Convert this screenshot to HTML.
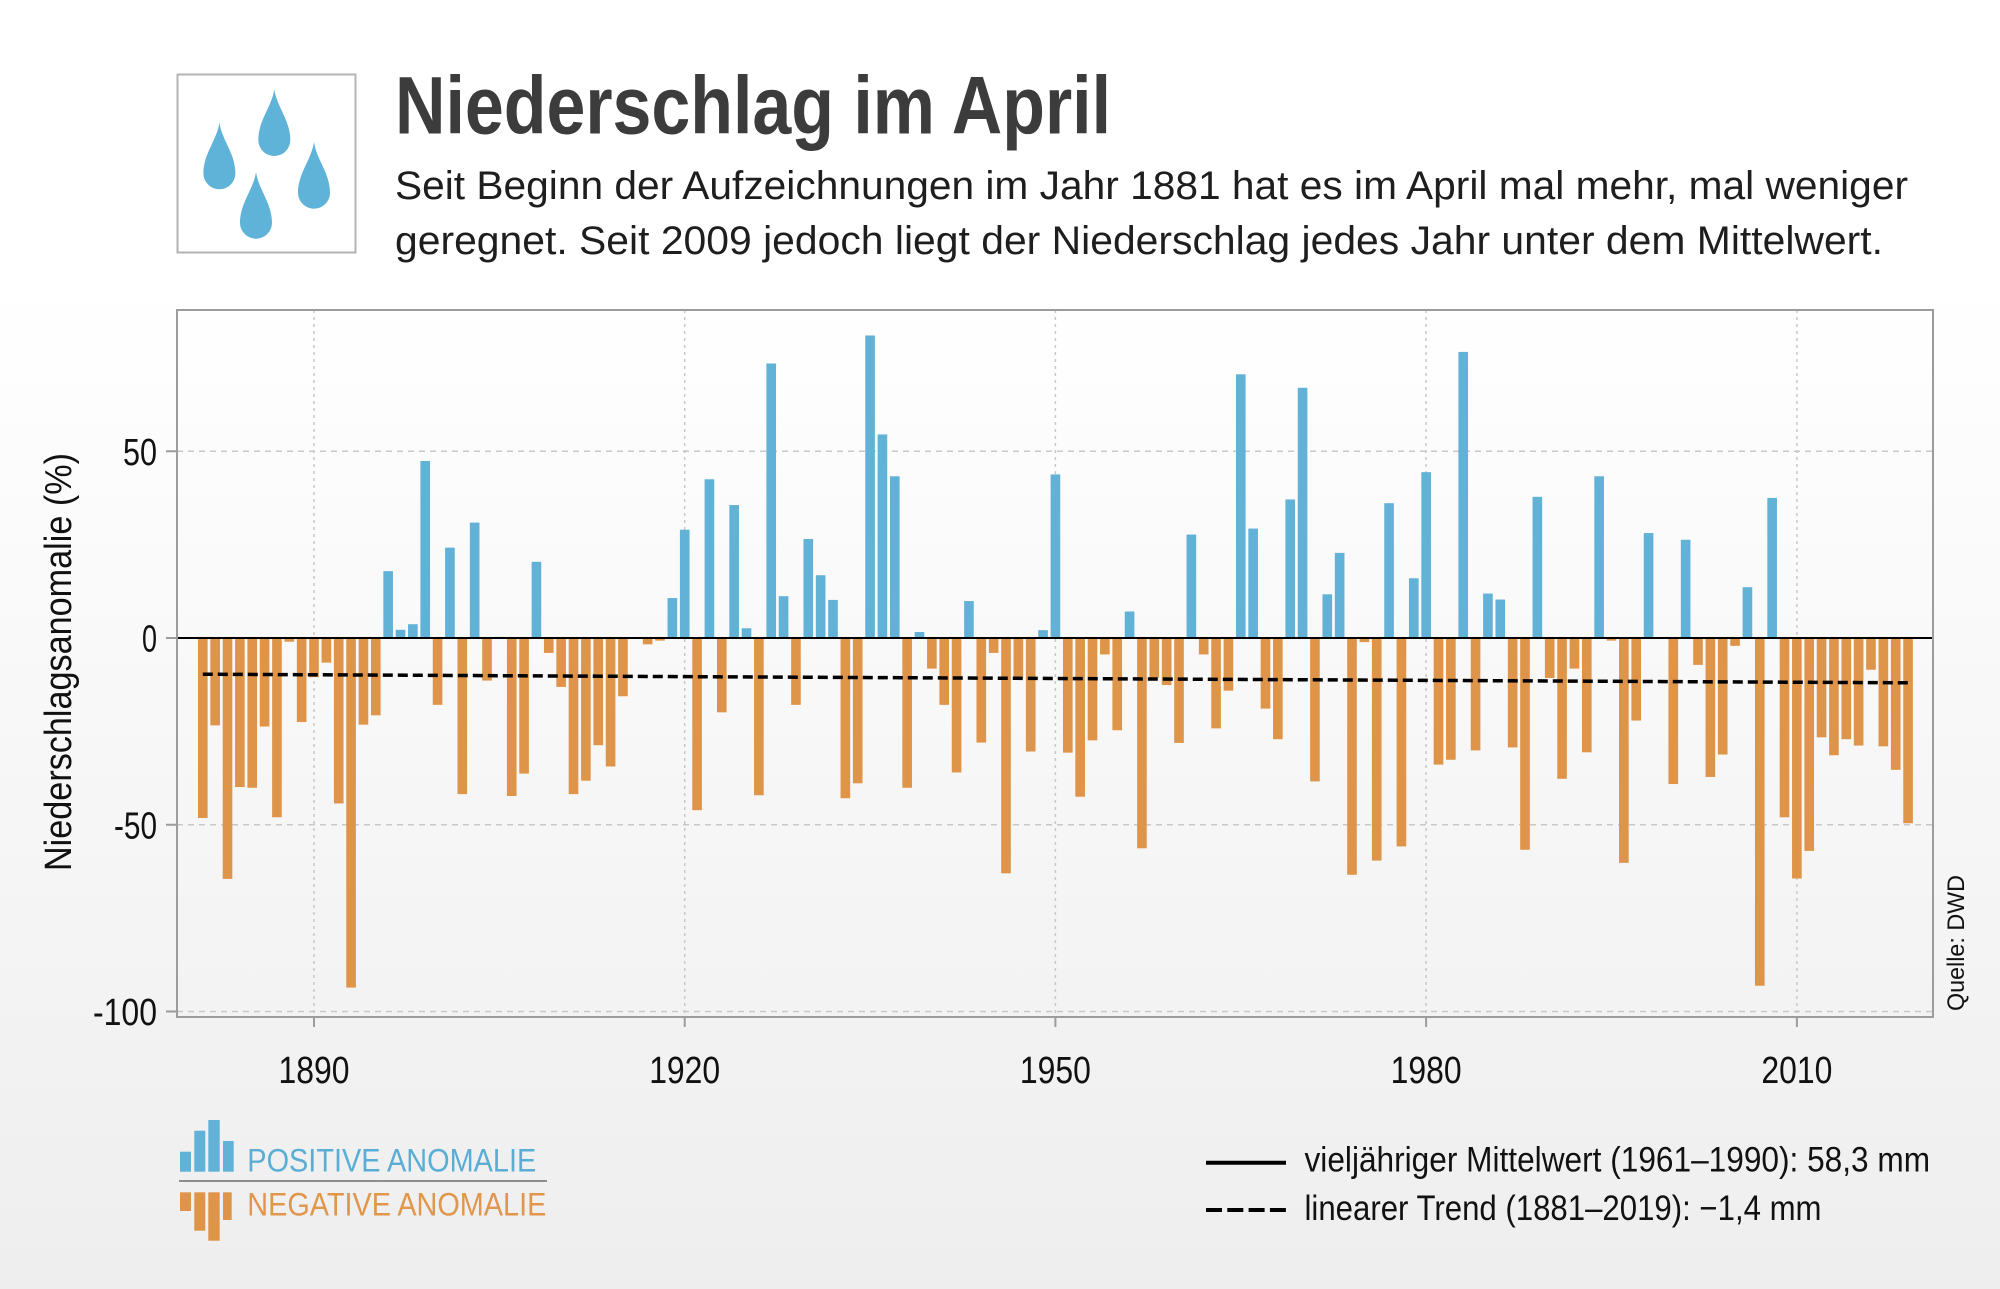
<!DOCTYPE html>
<html><head><meta charset="utf-8"><style>
html,body{margin:0;padding:0;width:2000px;height:1289px;overflow:hidden;}
body{background:linear-gradient(to bottom,#ffffff 0%,#ffffff 22%,#eeeeee 100%);}
svg{display:block;font-family:"Liberation Sans",sans-serif;}
</style></head><body>
<svg width="2000" height="1289" viewBox="0 0 2000 1289" xmlns="http://www.w3.org/2000/svg">
<!-- Icon -->
<rect x="177.5" y="74.5" width="178" height="178" fill="#ffffff" stroke="#b4b4b4" stroke-width="2"/>
<g fill="#5fb2d8">
<path transform="translate(219.4,189.3)" d="M0,-67 C2,-50 16,-36 16,-16 A16,16 0 0 1 -16,-16 C-16,-36 -2,-50 0,-67 Z"/>
<path transform="translate(274.3,156)" d="M0,-67 C2,-50 16,-36 16,-16 A16,16 0 0 1 -16,-16 C-16,-36 -2,-50 0,-67 Z"/>
<path transform="translate(314,208.7)" d="M0,-67 C2,-50 16,-36 16,-16 A16,16 0 0 1 -16,-16 C-16,-36 -2,-50 0,-67 Z"/>
<path transform="translate(256,238.7)" d="M0,-67 C2,-50 16,-36 16,-16 A16,16 0 0 1 -16,-16 C-16,-36 -2,-50 0,-67 Z"/>
</g>
<!-- Title -->
<text x="395" y="133.5" font-size="82" font-weight="bold" fill="#3c3c3c" textLength="716" lengthAdjust="spacingAndGlyphs">Niederschlag im April</text>
<text x="395" y="199" font-size="40" fill="#1e1e1e" textLength="1513" lengthAdjust="spacingAndGlyphs">Seit Beginn der Aufzeichnungen im Jahr 1881 hat es im April mal mehr, mal weniger</text>
<text x="395" y="254" font-size="40" fill="#1e1e1e" textLength="1488" lengthAdjust="spacingAndGlyphs">geregnet. Seit 2009 jedoch liegt der Niederschlag jedes Jahr unter dem Mittelwert.</text>

<!-- Grid -->
<g stroke="#c8c8c8" stroke-width="1.5" fill="none">
<line x1="177" y1="451.25" x2="1933" y2="451.25" stroke-dasharray="6 5"/>
<line x1="177" y1="824.75" x2="1933" y2="824.75" stroke-dasharray="6 5"/>
<line x1="177" y1="1011.5" x2="1933" y2="1011.5" stroke-dasharray="6 5"/>
<line x1="314" y1="310" x2="314" y2="1017" stroke-dasharray="3 4"/>
<line x1="684.7" y1="310" x2="684.7" y2="1017" stroke-dasharray="3 4"/>
<line x1="1055.4" y1="310" x2="1055.4" y2="1017" stroke-dasharray="3 4"/>
<line x1="1426.1" y1="310" x2="1426.1" y2="1017" stroke-dasharray="3 4"/>
<line x1="1796.9" y1="310" x2="1796.9" y2="1017" stroke-dasharray="3 4"/>
</g>

<!-- Bars -->
<g transform="translate(202.8,638) scale(12.357,-3.735)">
<g fill="#62b2d8">
<rect x="14.61" y="0" width="0.78" height="17.9"/>
<rect x="15.61" y="0" width="0.78" height="2.2"/>
<rect x="16.61" y="0" width="0.78" height="3.7"/>
<rect x="17.61" y="0" width="0.78" height="47.4"/>
<rect x="19.61" y="0" width="0.78" height="24.2"/>
<rect x="21.61" y="0" width="0.78" height="30.9"/>
<rect x="23.61" y="0" width="0.78" height="0.3"/>
<rect x="26.61" y="0" width="0.78" height="20.4"/>
<rect x="37.61" y="0" width="0.78" height="10.7"/>
<rect x="38.61" y="0" width="0.78" height="29"/>
<rect x="40.61" y="0" width="0.78" height="42.5"/>
<rect x="42.61" y="0" width="0.78" height="35.6"/>
<rect x="43.61" y="0" width="0.78" height="2.6"/>
<rect x="45.61" y="0" width="0.78" height="73.5"/>
<rect x="46.61" y="0" width="0.78" height="11.2"/>
<rect x="48.61" y="0" width="0.78" height="26.5"/>
<rect x="49.61" y="0" width="0.78" height="16.8"/>
<rect x="50.61" y="0" width="0.78" height="10.2"/>
<rect x="53.61" y="0" width="0.78" height="81"/>
<rect x="54.61" y="0" width="0.78" height="54.5"/>
<rect x="55.61" y="0" width="0.78" height="43.3"/>
<rect x="57.61" y="0" width="0.78" height="1.6"/>
<rect x="61.61" y="0" width="0.78" height="9.9"/>
<rect x="67.61" y="0" width="0.78" height="2.1"/>
<rect x="68.61" y="0" width="0.78" height="43.8"/>
<rect x="74.61" y="0" width="0.78" height="7.1"/>
<rect x="79.61" y="0" width="0.78" height="27.7"/>
<rect x="83.61" y="0" width="0.78" height="70.6"/>
<rect x="84.61" y="0" width="0.78" height="29.3"/>
<rect x="87.61" y="0" width="0.78" height="37.1"/>
<rect x="88.61" y="0" width="0.78" height="67"/>
<rect x="90.61" y="0" width="0.78" height="11.7"/>
<rect x="91.61" y="0" width="0.78" height="22.8"/>
<rect x="95.61" y="0" width="0.78" height="36.1"/>
<rect x="97.61" y="0" width="0.78" height="16"/>
<rect x="98.61" y="0" width="0.78" height="44.4"/>
<rect x="101.61" y="0" width="0.78" height="76.6"/>
<rect x="103.61" y="0" width="0.78" height="11.9"/>
<rect x="104.61" y="0" width="0.78" height="10.3"/>
<rect x="107.61" y="0" width="0.78" height="37.8"/>
<rect x="112.61" y="0" width="0.78" height="43.3"/>
<rect x="116.61" y="0" width="0.78" height="28.1"/>
<rect x="119.61" y="0" width="0.78" height="26.3"/>
<rect x="124.61" y="0" width="0.78" height="13.6"/>
<rect x="126.61" y="0" width="0.78" height="37.5"/>
</g>
<g fill="#df9549">
<rect x="-0.39" y="-48.2" width="0.78" height="48.2"/>
<rect x="0.61" y="-23.4" width="0.78" height="23.4"/>
<rect x="1.61" y="-64.5" width="0.78" height="64.5"/>
<rect x="2.61" y="-39.9" width="0.78" height="39.9"/>
<rect x="3.61" y="-40.1" width="0.78" height="40.1"/>
<rect x="4.61" y="-23.7" width="0.78" height="23.7"/>
<rect x="5.61" y="-48" width="0.78" height="48"/>
<rect x="6.61" y="-1" width="0.78" height="1"/>
<rect x="7.61" y="-22.5" width="0.78" height="22.5"/>
<rect x="8.61" y="-10.5" width="0.78" height="10.5"/>
<rect x="9.61" y="-6.6" width="0.78" height="6.6"/>
<rect x="10.61" y="-44.3" width="0.78" height="44.3"/>
<rect x="11.61" y="-93.6" width="0.78" height="93.6"/>
<rect x="12.61" y="-23.2" width="0.78" height="23.2"/>
<rect x="13.61" y="-20.7" width="0.78" height="20.7"/>
<rect x="18.61" y="-17.9" width="0.78" height="17.9"/>
<rect x="20.61" y="-41.8" width="0.78" height="41.8"/>
<rect x="22.61" y="-11.4" width="0.78" height="11.4"/>
<rect x="24.61" y="-42.3" width="0.78" height="42.3"/>
<rect x="25.61" y="-36.3" width="0.78" height="36.3"/>
<rect x="27.61" y="-4" width="0.78" height="4"/>
<rect x="28.61" y="-13.1" width="0.78" height="13.1"/>
<rect x="29.61" y="-41.8" width="0.78" height="41.8"/>
<rect x="30.61" y="-38.2" width="0.78" height="38.2"/>
<rect x="31.61" y="-28.7" width="0.78" height="28.7"/>
<rect x="32.61" y="-34.4" width="0.78" height="34.4"/>
<rect x="33.61" y="-15.6" width="0.78" height="15.6"/>
<rect x="35.61" y="-1.7" width="0.78" height="1.7"/>
<rect x="36.61" y="-0.7" width="0.78" height="0.7"/>
<rect x="39.61" y="-46.1" width="0.78" height="46.1"/>
<rect x="41.61" y="-19.9" width="0.78" height="19.9"/>
<rect x="44.61" y="-42.1" width="0.78" height="42.1"/>
<rect x="47.61" y="-17.9" width="0.78" height="17.9"/>
<rect x="51.61" y="-42.9" width="0.78" height="42.9"/>
<rect x="52.61" y="-38.9" width="0.78" height="38.9"/>
<rect x="56.61" y="-40.1" width="0.78" height="40.1"/>
<rect x="58.61" y="-8.2" width="0.78" height="8.2"/>
<rect x="59.61" y="-17.9" width="0.78" height="17.9"/>
<rect x="60.61" y="-36" width="0.78" height="36"/>
<rect x="62.61" y="-28" width="0.78" height="28"/>
<rect x="63.61" y="-4" width="0.78" height="4"/>
<rect x="64.61" y="-63" width="0.78" height="63"/>
<rect x="65.61" y="-10.7" width="0.78" height="10.7"/>
<rect x="66.61" y="-30.4" width="0.78" height="30.4"/>
<rect x="69.61" y="-30.7" width="0.78" height="30.7"/>
<rect x="70.61" y="-42.5" width="0.78" height="42.5"/>
<rect x="71.61" y="-27.4" width="0.78" height="27.4"/>
<rect x="72.61" y="-4.4" width="0.78" height="4.4"/>
<rect x="73.61" y="-24.7" width="0.78" height="24.7"/>
<rect x="75.61" y="-56.3" width="0.78" height="56.3"/>
<rect x="76.61" y="-10.6" width="0.78" height="10.6"/>
<rect x="77.61" y="-12.6" width="0.78" height="12.6"/>
<rect x="78.61" y="-28.1" width="0.78" height="28.1"/>
<rect x="80.61" y="-4.4" width="0.78" height="4.4"/>
<rect x="81.61" y="-24.2" width="0.78" height="24.2"/>
<rect x="82.61" y="-14.1" width="0.78" height="14.1"/>
<rect x="85.61" y="-18.9" width="0.78" height="18.9"/>
<rect x="86.61" y="-27.1" width="0.78" height="27.1"/>
<rect x="89.61" y="-38.4" width="0.78" height="38.4"/>
<rect x="92.61" y="-63.4" width="0.78" height="63.4"/>
<rect x="93.61" y="-1.1" width="0.78" height="1.1"/>
<rect x="94.61" y="-59.6" width="0.78" height="59.6"/>
<rect x="96.61" y="-55.8" width="0.78" height="55.8"/>
<rect x="99.61" y="-33.9" width="0.78" height="33.9"/>
<rect x="100.61" y="-32.6" width="0.78" height="32.6"/>
<rect x="102.61" y="-30.1" width="0.78" height="30.1"/>
<rect x="105.61" y="-29.3" width="0.78" height="29.3"/>
<rect x="106.61" y="-56.7" width="0.78" height="56.7"/>
<rect x="108.61" y="-10.7" width="0.78" height="10.7"/>
<rect x="109.61" y="-37.7" width="0.78" height="37.7"/>
<rect x="110.61" y="-8.2" width="0.78" height="8.2"/>
<rect x="111.61" y="-30.6" width="0.78" height="30.6"/>
<rect x="113.61" y="-0.7" width="0.78" height="0.7"/>
<rect x="114.61" y="-60.2" width="0.78" height="60.2"/>
<rect x="115.61" y="-22.1" width="0.78" height="22.1"/>
<rect x="118.61" y="-39.1" width="0.78" height="39.1"/>
<rect x="120.61" y="-7.2" width="0.78" height="7.2"/>
<rect x="121.61" y="-37.2" width="0.78" height="37.2"/>
<rect x="122.61" y="-31.2" width="0.78" height="31.2"/>
<rect x="123.61" y="-2.1" width="0.78" height="2.1"/>
<rect x="125.61" y="-93.1" width="0.78" height="93.1"/>
<rect x="127.61" y="-48" width="0.78" height="48"/>
<rect x="128.61" y="-64.4" width="0.78" height="64.4"/>
<rect x="129.61" y="-57" width="0.78" height="57"/>
<rect x="130.61" y="-26.6" width="0.78" height="26.6"/>
<rect x="131.61" y="-31.4" width="0.78" height="31.4"/>
<rect x="132.61" y="-27.1" width="0.78" height="27.1"/>
<rect x="133.61" y="-28.8" width="0.78" height="28.8"/>
<rect x="134.61" y="-8.5" width="0.78" height="8.5"/>
<rect x="135.61" y="-29" width="0.78" height="29"/>
<rect x="136.61" y="-35.3" width="0.78" height="35.3"/>
<rect x="137.61" y="-49.6" width="0.78" height="49.6"/>
</g>
</g>

<!-- zero line, trend -->
<line x1="177" y1="638" x2="1933" y2="638" stroke="#000" stroke-width="2"/>
<line x1="202.8" y1="674.2" x2="1908" y2="682.8" stroke="#000" stroke-width="3.5" stroke-dasharray="10 5"/>

<!-- Plot border -->
<rect x="177" y="310" width="1756" height="707" fill="none" stroke="#9c9c9c" stroke-width="2"/>

<!-- ticks -->
<g stroke="#9c9c9c" stroke-width="2">
<line x1="166" y1="451.25" x2="177" y2="451.25"/>
<line x1="166" y1="638" x2="177" y2="638"/>
<line x1="166" y1="824.75" x2="177" y2="824.75"/>
<line x1="166" y1="1011.5" x2="177" y2="1011.5"/>
<line x1="314" y1="1017" x2="314" y2="1027"/>
<line x1="684.7" y1="1017" x2="684.7" y2="1027"/>
<line x1="1055.4" y1="1017" x2="1055.4" y2="1027"/>
<line x1="1426.1" y1="1017" x2="1426.1" y2="1027"/>
<line x1="1796.9" y1="1017" x2="1796.9" y2="1027"/>
</g>

<!-- y tick labels -->
<g font-size="38" fill="#111">
<text x="123" y="465" textLength="34" lengthAdjust="spacingAndGlyphs">50</text>
<text x="142" y="651.6" textLength="15" lengthAdjust="spacingAndGlyphs">0</text>
<text x="114" y="838.4" textLength="43" lengthAdjust="spacingAndGlyphs">-50</text>
<text x="93" y="1025" textLength="64" lengthAdjust="spacingAndGlyphs">-100</text>
</g>
<!-- x tick labels -->
<g font-size="38" fill="#111">
<text x="278.5" y="1083" textLength="71" lengthAdjust="spacingAndGlyphs">1890</text>
<text x="649.2" y="1083" textLength="71" lengthAdjust="spacingAndGlyphs">1920</text>
<text x="1019.9" y="1083" textLength="71" lengthAdjust="spacingAndGlyphs">1950</text>
<text x="1390.6" y="1083" textLength="71" lengthAdjust="spacingAndGlyphs">1980</text>
<text x="1761.4" y="1083" textLength="71" lengthAdjust="spacingAndGlyphs">2010</text>
</g>

<!-- axis label -->
<text transform="translate(71,662) rotate(-90)" x="-209" y="0" font-size="38" fill="#111" textLength="418" lengthAdjust="spacingAndGlyphs">Niederschlagsanomalie (%)</text>
<text transform="translate(1964,943) rotate(-90)" x="-68" y="0" font-size="24" fill="#111" textLength="136" lengthAdjust="spacingAndGlyphs">Quelle: DWD</text>

<!-- Legend left -->
<g fill="#62b2d8">
<rect x="180" y="1151.7" width="11" height="20"/>
<rect x="194.3" y="1130.7" width="11" height="41"/>
<rect x="208.3" y="1120" width="11.4" height="51.7"/>
<rect x="223" y="1141" width="10.7" height="30.7"/>
</g>
<line x1="179" y1="1181" x2="547" y2="1181" stroke="#6d6d6d" stroke-width="1.6"/>
<g fill="#df9549">
<rect x="180" y="1192.3" width="11" height="18.7"/>
<rect x="194.3" y="1192.3" width="11" height="38.4"/>
<rect x="208.3" y="1192.3" width="11.4" height="48.4"/>
<rect x="223" y="1192.3" width="8.7" height="27.7"/>
</g>
<text x="247.3" y="1171.7" font-size="32" fill="#5aaed6" textLength="289" lengthAdjust="spacingAndGlyphs">POSITIVE ANOMALIE</text>
<text x="247.3" y="1215.7" font-size="32" fill="#e0964b" textLength="299" lengthAdjust="spacingAndGlyphs">NEGATIVE ANOMALIE</text>

<!-- Legend right -->
<line x1="1206" y1="1162.7" x2="1286" y2="1162.7" stroke="#000" stroke-width="4"/>
<line x1="1206" y1="1210" x2="1286" y2="1210" stroke="#000" stroke-width="4" stroke-dasharray="16 5.3"/>
<text x="1304.5" y="1171.7" font-size="35" fill="#111" textLength="625.6" lengthAdjust="spacingAndGlyphs">vieljähriger Mittelwert (1961–1990): 58,3 mm</text>
<text x="1304.5" y="1220" font-size="35" fill="#111" textLength="517" lengthAdjust="spacingAndGlyphs">linearer Trend (1881–2019): −1,4 mm</text>
</svg>
</body></html>
